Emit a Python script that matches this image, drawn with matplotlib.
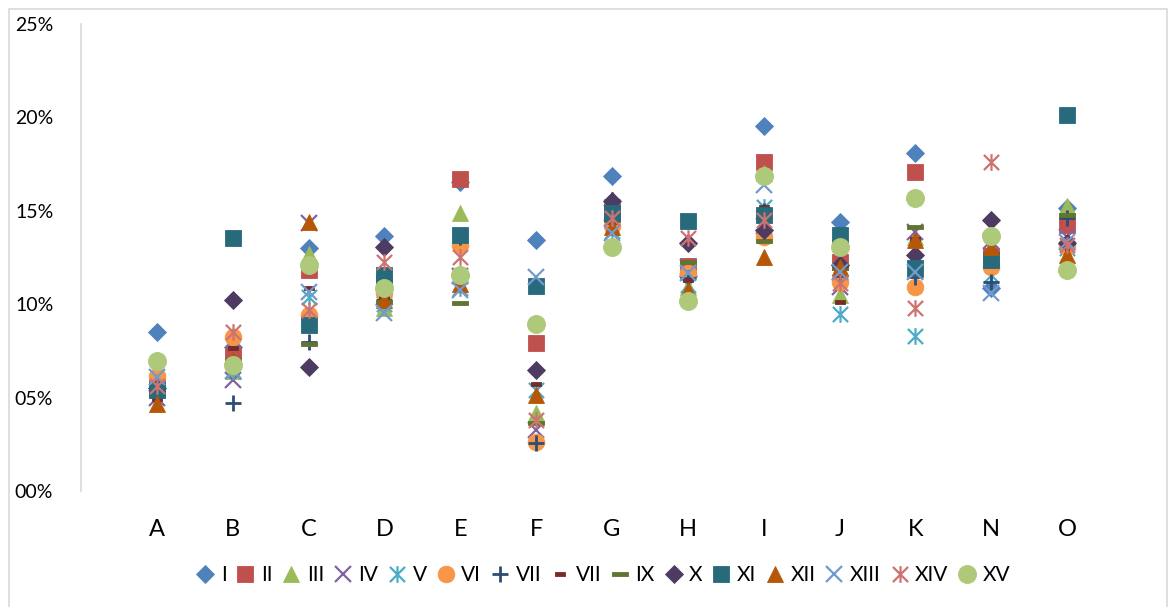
import matplotlib
matplotlib.use("Agg")
import matplotlib.pyplot as plt
from matplotlib.path import Path
from matplotlib.patches import Rectangle
import numpy as np

plt.rcParams['font.family'] = ['Lato', 'DejaVu Sans']

categories = ["A", "B", "C", "D", "E", "F", "G", "H", "I", "J", "K", "N", "O"]
series_names = ["I", "II", "III", "IV", "V", "VI", "VII", "VIII", "IX", "X",
                "XI", "XII", "XIII", "XIV", "XV"]
legend_labels = ["I", "II", "III", "IV", "V", "VI", "VII", "VII", "IX", "X",
                 "XI", "XII", "XIII", "XIV", "XV"]

s_I    = [8.50, 7.70, 13.03, 13.65, 16.55, 13.44, 16.86, 11.50, 19.56, 14.42, 18.08, 10.85, 15.13]
s_II   = [5.50, 7.30, 11.83, 11.20, 16.69, 7.94, 15.00, 12.04, 17.63, 12.28, 17.10, 12.60, 14.24]
s_III  = [5.40, 6.40, 12.70, 9.80, 14.87, 4.16, 14.50, 10.90, 17.00, 10.49, 13.60, 12.80, 15.26]
s_IV   = [5.00, 5.94, 14.33, 10.40, 11.50, 3.27, 14.90, 12.00, 14.20, 10.94, 13.88, 13.40, 13.60]
s_V    = [5.70, 6.40, 10.40, 10.00, 10.85, 5.40, 13.90, 11.03, 15.22, 9.47, 8.31, 11.56, 13.00]
s_VI   = [6.16, 8.26, 9.42, 10.60, 13.17, 2.64, 14.20, 11.65, 13.60, 11.20, 10.94, 12.01, 13.08]
s_VII  = [5.20, 4.73, 8.00, 10.20, 13.60, 2.55, 15.60, 11.40, 15.00, 11.50, 11.47, 11.20, 14.60]
s_VIII = [4.90, 7.64, 10.85, 10.33, 11.20, 5.71, 14.40, 11.30, 15.20, 10.10, 13.50, 12.80, 13.50]
s_IX   = [5.30, 7.00, 7.85, 10.10, 10.08, 3.62, 14.50, 12.28, 13.40, 11.92, 14.15, 12.20, 14.78]
s_X    = [5.50, 10.20, 6.66, 13.08, 11.50, 6.48, 15.50, 13.26, 13.97, 12.10, 12.63, 14.51, 13.30]
s_XI   = [5.40, 13.54, 8.89, 11.56, 13.70, 10.97, 14.87, 14.45, 14.78, 13.70, 11.92, 12.37, 20.13]
s_XII  = [4.66, 7.00, 14.42, 10.22, 11.10, 5.14, 14.15, 10.76, 12.54, 12.00, 13.44, 13.08, 12.63]
s_XIII = [6.10, 6.40, 10.67, 9.51, 10.76, 11.47, 13.80, 11.65, 16.38, 11.74, 11.74, 10.58, 13.35]
s_XIV  = [5.60, 8.53, 9.69, 12.28, 12.54, 3.80, 14.60, 13.53, 14.51, 11.12, 9.78, 17.63, 13.17]
s_XV   = [6.96, 6.75, 12.10, 10.85, 11.56, 8.94, 13.04, 10.19, 16.86, 13.04, 15.67, 13.65, 11.83]

series_values = [s_I, s_II, s_III, s_IV, s_V, s_VI, s_VII, s_VIII, s_IX, s_X,
                 s_XI, s_XII, s_XIII, s_XIV, s_XV]
y_ticks = [0, 5, 10, 15, 20, 25]
y_tick_labels = ["00%", "05%", "10%", "15%", "20%", "25%"]

# custom marker paths
asterisk = Path([(-1, -1), (1, 1), (-1, 1), (1, -1), (0, -1.1), (0, 1.1)],
                [Path.MOVETO, Path.LINETO, Path.MOVETO, Path.LINETO, Path.MOVETO, Path.LINETO])
def rect_path(h):
    return Path([(-1, -h), (1, -h), (1, h), (-1, h), (-1, -h)],
                [Path.MOVETO, Path.LINETO, Path.LINETO, Path.LINETO, Path.CLOSEPOLY])
short_dash = rect_path(0.45)
long_dash = rect_path(0.26)

styles = [
    dict(marker='D', ms=9, color='#4F81BD', filled=True),
    dict(marker='s', ms=12, color='#C0504D', filled=True),
    dict(marker='^', ms=12, color='#9BBB59', filled=True),
    dict(marker='x', ms=11, color='#8064A2', filled=False, mew=1.6),
    dict(marker=asterisk, ms=12, color='#4BACC6', filled=False, mew=1.6),
    dict(marker='o', ms=12, color='#F79646', filled=True),
    dict(marker='+', ms=12, color='#2C4D75', filled=False, mew=2.0),
    dict(marker=short_dash, ms=7, color='#772C2A', filled=True),
    dict(marker=long_dash, ms=12, color='#5F7530', filled=True),
    dict(marker='D', ms=9, color='#4D3B62', filled=True),
    dict(marker='s', ms=12, color='#276A7C', filled=True),
    dict(marker='^', ms=12, color='#B65708', filled=True),
    dict(marker='x', ms=12, color='#729ACA', filled=False, mew=1.6),
    dict(marker=asterisk, ms=12, color='#CD7371', filled=False, mew=1.6),
    dict(marker='o', ms=13, color='#AFC97A', filled=True),
]

W, H = 1169, 607
fig = plt.figure(figsize=(W / 100, H / 100), dpi=100)
ax = fig.add_axes([81 / W, (H - 491) / H, (1143 - 81) / W, (491 - 24) / H])

x = np.arange(1, len(categories) + 1)
handles = []
for name, lab, vals, st in zip(series_names, legend_labels, series_values, styles):
    if st['filled']:
        kw = dict(markerfacecolor=st['color'], markeredgecolor=st['color'], markeredgewidth=0.6)
    else:
        kw = dict(markerfacecolor='none', markeredgecolor=st['color'], markeredgewidth=st['mew'])
    h, = ax.plot(x, vals, linestyle='none', marker=st['marker'], markersize=st['ms'],
                 label=lab, **kw)
    handles.append(h)

ax.set_xlim(0, 14)
ax.set_ylim(0, 25)
ax.set_xticks(x)
ax.set_xticklabels(categories, fontsize=17)
ax.set_yticks(y_ticks)
ax.set_yticklabels(y_tick_labels, fontsize=14)
ax.tick_params(axis='x', length=0, pad=20, colors='black')
ax.tick_params(axis='y', length=0, pad=20, colors='black')
for s in ['top', 'right', 'bottom']:
    ax.spines[s].set_visible(False)
ax.spines['left'].set_color('#D9D9D9')
ax.spines['left'].set_linewidth(1.2)

leg = fig.legend(handles=handles, loc='center', bbox_to_anchor=(0.516, (H - 575) / H),
                 ncol=15, frameon=False, fontsize=15, handlelength=0.9,
                 handletextpad=0.3, columnspacing=0.45, borderaxespad=0)

fig.patches.append(Rectangle((9 / W, -0.01), (1167 - 9) / W, (H - 9) / H + 0.01,
                             transform=fig.transFigure, fill=False,
                             edgecolor='#D9D9D9', linewidth=1.2))

fig.savefig('out.png', dpi=100)
